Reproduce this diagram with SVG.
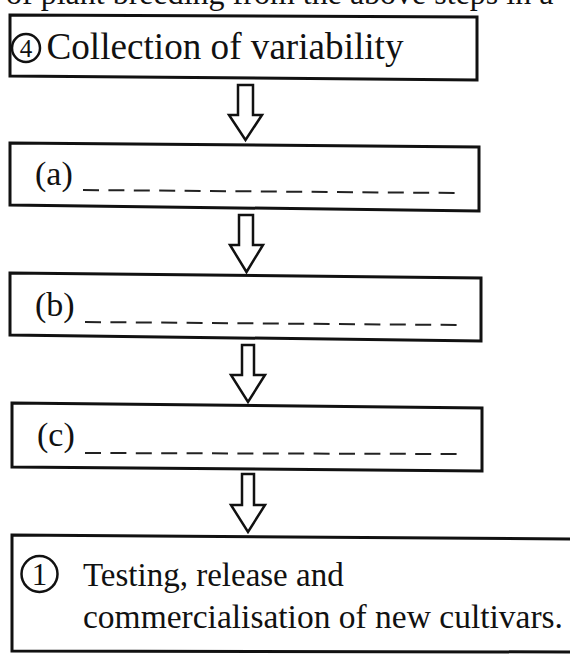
<svg xmlns="http://www.w3.org/2000/svg" width="570" height="654" viewBox="0 0 570 654">
<style>
.box{fill:#fff;stroke:#111;stroke-width:3;stroke-linejoin:miter}
.txt{font-family:"Liberation Serif","Times New Roman",serif;fill:#111}
.num{font-family:"Liberation Serif","Times New Roman",serif;fill:#111;text-anchor:middle}
.circ{fill:none;stroke:#111;stroke-width:2.5}
.dash{stroke:#222;stroke-width:2;stroke-dasharray:16 9.4;fill:none}
.arrow{fill:#fff;stroke:#111;stroke-width:2.5;stroke-linejoin:miter}
</style>
<rect width="570" height="654" fill="#fff"/>
<text class="txt" x="6" y="4" font-size="32">of plant breeding from the above steps in a</text>
<g id="node-4">
<polygon class="box" points="10,15 477,17 477,80 10,76"/>
<circle class="circ" cx="26" cy="48" r="14"/>
<text class="num" x="26" y="57" font-size="25">4</text>
<text class="txt" x="46.5" y="59" font-size="37" textLength="357" lengthAdjust="spacingAndGlyphs">Collection of variability</text>
</g>
<g id="node-a">
<polygon class="box" points="10,143 479,147 479,211 10,205"/>
<text class="txt" x="35" y="185" font-size="34">(a)</text>
<line class="dash" x1="83" y1="190" x2="455" y2="193"/>
</g>
<g id="node-b">
<polygon class="box" points="10,273 481,278 481,341 10,335"/>
<text class="txt" x="35" y="316" font-size="34">(b)</text>
<line class="dash" x1="85" y1="322" x2="457" y2="325"/>
</g>
<g id="node-c">
<polygon class="box" points="12,403 482,408 482,471 12,467"/>
<text class="txt" x="37" y="446" font-size="34">(c)</text>
<line class="dash" x1="85" y1="453" x2="457" y2="454"/>
</g>
<g id="node-1">
<polygon class="box" points="12,535 580,539 580,652 12,651"/>
<circle class="circ" cx="39.5" cy="574" r="18"/>
<text class="num" x="39.5" y="585" font-size="31">1</text>
<text class="txt" x="83" y="586" font-size="33">Testing, release and</text>
<text class="txt" x="83" y="628" font-size="33" textLength="480" lengthAdjust="spacingAndGlyphs">commercialisation of new cultivars.</text>
</g>
<g id="connectors">
<polygon class="arrow" points="238,85 253,85 253,115 262,115 245.5,140 229,115 238,115"/>
<polygon class="arrow" points="239,215 253,215 253,245 263,245 246.5,272 230,245 239,245"/>
<polygon class="arrow" points="242,345 254,345 254,375 265,375 248,402 231,375 242,375"/>
<polygon class="arrow" points="242,474 254,474 254,505 265,505 248,532 231,505 242,505"/>
</g>
</svg>
